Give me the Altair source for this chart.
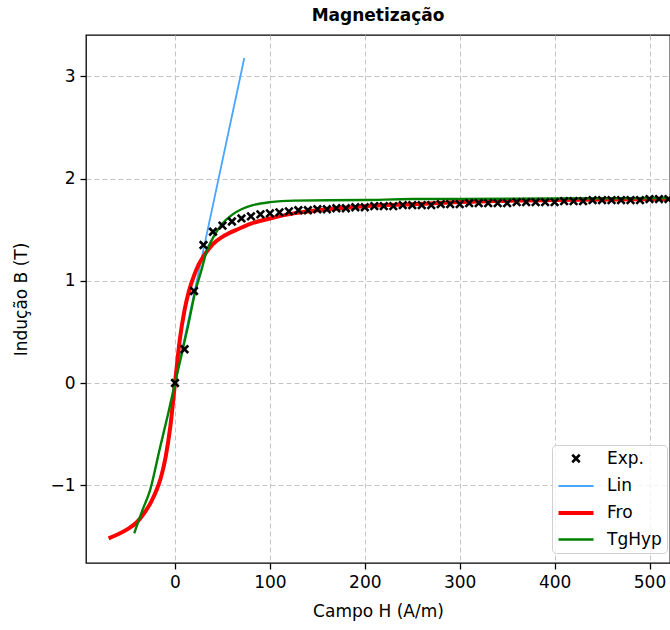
import altair as alt
import pandas as pd

# Measured magnetization curve: field H (A/m) vs induction B (T)
exp_h = [0, 10, 20, 30, 40, 50, 60, 70, 80, 90,
         100, 110, 120, 130, 140, 150, 160, 170, 180, 190,
         200, 210, 220, 230, 240, 250, 260, 270, 280, 290,
         300, 310, 320, 330, 340, 350, 360, 370, 380, 390,
         400, 410, 420, 430, 440, 450, 460, 470, 480, 490,
         500, 510, 520]
exp_b = [0.00, 0.33, 0.90, 1.35, 1.48, 1.54, 1.58, 1.61, 1.63, 1.65,
         1.66, 1.67, 1.68, 1.69, 1.69, 1.70, 1.70, 1.71, 1.71, 1.72,
         1.72, 1.73, 1.73, 1.73, 1.74, 1.74, 1.74, 1.74, 1.75, 1.75,
         1.75, 1.76, 1.76, 1.76, 1.76, 1.76, 1.77, 1.77, 1.77, 1.77,
         1.77, 1.78, 1.78, 1.78, 1.79, 1.79, 1.79, 1.79, 1.79, 1.79,
         1.80, 1.80, 1.80]

# Linear model
lin_h = [0, 73]
lin_b = [0.00, 3.18]

# Frohlich model
fro_h = [-70, -60, -50, -40, -33, -25, -20, -15, -10, -5, 0, 5, 10, 15, 20,
         25, 30, 40, 50, 65, 80, 100, 125, 150, 200, 250, 300, 400, 520]
fro_b = [-1.52, -1.48, -1.43, -1.36, -1.28, -1.16, -1.06, -0.93, -0.73, -0.43,
         0.00, 0.42, 0.71, 0.91, 1.05, 1.16, 1.24, 1.36, 1.43, 1.50, 1.56,
         1.61, 1.66, 1.69, 1.73, 1.75, 1.77, 1.79, 1.80]

# Hyperbolic tangent model
tgh_h = [-43, -35, -26, -16, -7, 0, 7, 14, 21, 28, 33, 40, 50, 60, 70, 82,
         100, 125, 200, 250, 300, 400, 520]
tgh_b = [-1.47, -1.26, -1.04, -0.64, -0.29, 0.00, 0.28, 0.57, 0.88, 1.11,
         1.28, 1.42, 1.56, 1.645, 1.70, 1.74, 1.77, 1.785, 1.79, 1.80, 1.80,
         1.805, 1.81]

series = ["Exp.", "Lin", "Fro", "TgHyp"]
colors = ["#000000", "#4aa5ff", "#ff0000", "#008000"]
widths = [2.6, 1.8, 4.0, 2.4]
X_PATH = "M-1,-1L1,1M-1,1L1,-1"
LINE_PATH = "M-1.75,0L1.75,0"
shapes = [X_PATH, LINE_PATH, LINE_PATH, LINE_PATH]
sizes = [56, 400, 400, 400]

FONT = "DejaVu Sans"

exp_df = pd.DataFrame({"H": exp_h, "B": exp_b, "serie": "Exp."})
lin_df = pd.DataFrame({"H": lin_h, "B": lin_b, "serie": "Lin"})
fro_df = pd.DataFrame({"H": fro_h, "B": fro_b, "serie": "Fro"})
tgh_df = pd.DataFrame({"H": tgh_h, "B": tgh_b, "serie": "TgHyp"})

x_enc = alt.X("H:Q", scale=alt.Scale(domain=[-93.8, 521.6], nice=False, zero=False),
              title="Campo H (A/m)",
              axis=alt.Axis(values=[0, 100, 200, 300, 400, 500]))
y_enc = alt.Y("B:Q", scale=alt.Scale(domain=[-1.761, 3.405], nice=False, zero=False),
              title="Indução B (T)",
              axis=alt.Axis(values=[-1, 0, 1, 2, 3]))

color = alt.Color("serie:N", scale=alt.Scale(domain=series, range=colors), title=None)
stroke_w = alt.StrokeWidth("serie:N",
                           scale=alt.Scale(type="ordinal", domain=series, range=widths),
                           title=None)
shape = alt.Shape("serie:N", scale=alt.Scale(domain=series, range=shapes), title=None)
size = alt.Size("serie:N", scale=alt.Scale(type="ordinal", domain=series, range=sizes),
                title=None)

lin = alt.Chart(lin_df).mark_line().encode(
    x=x_enc, y=y_enc, color=color, strokeWidth=stroke_w)
fro = alt.Chart(fro_df).mark_line(interpolate="monotone").encode(
    x=x_enc, y=y_enc, color=color, strokeWidth=stroke_w)
tgh = alt.Chart(tgh_df).mark_line(interpolate="monotone").encode(
    x=x_enc, y=y_enc, color=color, strokeWidth=stroke_w)
pts = alt.Chart(exp_df).mark_point(filled=False, opacity=1).encode(
    x=x_enc, y=y_enc, color=color, strokeWidth=stroke_w, shape=shape, size=size)

chart = (
    alt.layer(lin, fro, tgh, pts)
    .properties(
        width=584,
        height=528,
        autosize=alt.AutoSizeParams(type="none"),
        padding={"left": 86, "top": 35, "right": 0, "bottom": 67},
        title=alt.TitleParams("Magnetização", font=FONT, fontSize=17,
                              fontWeight="bold", anchor="middle", offset=10, color="black"),
        background="white",
    )
    .configure_view(stroke="black", strokeWidth=1.3)
    .configure_axis(
        labelFont=FONT, labelFontSize=17, labelColor="black",
        titleFont=FONT, titleFontSize=17, titleFontWeight="normal", titleColor="black",
        domain=False,
        tickColor="black", tickWidth=1.3, tickSize=6,
        labelPadding=5,
        grid=True, gridColor="#c4c4c4", gridDash=[5, 3], gridWidth=1,
    )
    .configure_axisX(titlePadding=13)
    .configure_axisY(titlePadding=19)
    .configure_legend(
        orient="none", legendX=466, legendY=410,
        padding=5, rowPadding=7, symbolOffset=7, labelOffset=19,
        labelFont=FONT, labelFontSize=17, labelColor="black",
        fillColor="rgba(255,255,255,0.8)", strokeColor="#d0d0d0", cornerRadius=4,
        symbolFillColor="transparent",
    )
)

chart.save("out.html", embed_options={"renderer": "svg", "actions": False})
